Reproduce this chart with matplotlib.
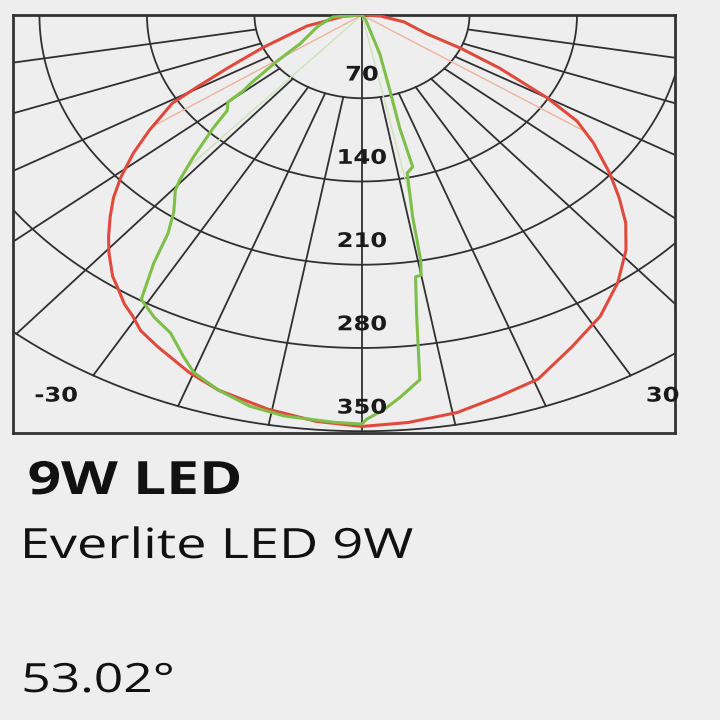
import numpy as np
import matplotlib
matplotlib.use('Agg')
import matplotlib.pyplot as plt
import matplotlib.patheffects as pe
from matplotlib.transforms import Affine2D

# polar grid: candela rings and spoke angles (deg from nadir)
RINGS = [70, 140, 210, 280, 350]
SPOKES = [-80, -70, -60, -50, -40, -30, -20, -10, 10, 20, 30, 40, 50, 60, 70, 80]
EDGE_LABELS = ['-30', '30']
EDGE_ANGLES = [-30, 30]

# red curve (reference lamp), angle deg / cd
RED_ANGLES = [-90, -85, -75.5, -67, -63, -60.5, -59, -55, -52, -49,
              -46.5, -44, -41.5, -39.5, -36.5, -34.5, -32.5, -30.5, -28.5, -25.5,
              -20.5, -16.5, -10.5, -5, 0, 5, 10.5, 15.5, 20.5, 26,
              31.5, 36.5, 41, 44.5, 47.5, 50.5, 54.5, 57.5, 60, 63.5,
              66.5, 69.5, 78, 86, 90]
RED_CD = [0, 12, 37, 70, 98, 124, 144, 169, 189, 208,
          223, 236, 249, 259, 273, 280, 288, 294, 302, 309,
          321, 329, 337, 343, 346, 344, 340, 333, 327, 311,
          297, 280, 262, 245, 227, 209, 185, 166, 139, 100,
          70, 45, 28, 12, 0]

# green curve (Everlite LED 9W)
GREEN_ANGLES = [-90, -85, -72, -59, -55, -51.5, -50.5, -50, -47.5, -45.5,
                -42.5, -40.5, -39.5, -36.5, -34.5, -33, -32, -31, -28, -25,
                -22, -20, -16.5, -12.5, -8.5, -3, 0, 0.5, 2.5, 4.5,
                7, 8, 9, 10, 10.5, 11, 12.5, 14.5, 14.5, 14.5,
                16, 19.5, 30, 90]
GREEN_CD = [0, 19, 30, 47, 67, 93, 100, 114, 119, 136,
            163, 183, 191, 206, 223, 249, 263, 279, 288, 295,
            310, 320, 329, 337, 341, 343, 344, 340, 332, 322,
            309, 256, 223, 222, 210, 173, 136, 132, 124, 98,
            66, 35, 5, 0]

# half-intensity beam edges
RED_BEAM = [-55.5, 56.0]
GREEN_BEAM = [-41.5, 11.52]

TITLE = '9W LED'
PRODUCT = 'Everlite LED 9W'
BEAM_TEXT = '53.02°'

BG = '#eeeeee'
GRID = '#303030'
RED = '#df4a3c'
GREEN = '#7dbf48'


class Stretch(pe.AbstractPathEffect):
    # widen glyphs horizontally, the source picture is stretched
    def __init__(self, sx=1.28, pivot='left'):
        super().__init__()
        self.sx = sx
        self.pivot = pivot

    def draw_path(self, renderer, gc, tpath, affine, rgbFace=None):
        bb = tpath.get_extents(affine)
        px = {'left': bb.x0, 'center': 0.5 * (bb.x0 + bb.x1), 'right': bb.x1}[self.pivot]
        aff = affine + Affine2D().translate(-px, 0).scale(self.sx, 1).translate(px, 0)
        renderer.draw_path(gc, tpath, aff, rgbFace)


def to_xy(ang, r):
    a = np.radians(np.asarray(ang, float))
    r = np.asarray(r, float)
    return r * np.sin(a), -r * np.cos(a)


fig = plt.figure(figsize=(7.2, 7.2), dpi=100, facecolor=BG)
ax = fig.add_axes([13 / 720, 1 - 433 / 720, 662 / 720, 418 / 720])
ax.set_facecolor(BG)
ax.set_xlim(-227.2, 203.8)
ax.set_ylim(-351.5, 0)
ax.set_xticks([])
ax.set_yticks([])
for s in ax.spines.values():
    s.set_color('#333333')
    s.set_linewidth(2.0)

# rings
th = np.linspace(-90, 90, 361)
for r in RINGS:
    x, y = to_xy(th, np.full_like(th, r))
    ax.plot(x, y, color=GRID, lw=1.3, zorder=1)

# spokes from first ring outward, centre line from origin
for a in SPOKES:
    x, y = to_xy([a, a], [RINGS[0], RINGS[-1]])
    ax.plot(x, y, color=GRID, lw=1.3, zorder=1)
x, y = to_xy([0, 0], [0, RINGS[-1]])
ax.plot(x, y, color=GRID, lw=1.3, zorder=1)

# ring labels
for r in RINGS:
    ax.text(0, -(r - 19.5), str(r), ha='center', va='center', fontsize=14.5,
            fontweight='bold', family='DejaVu Sans', color='#1a1a1a', zorder=5,
            path_effects=[Stretch(1.2, 'center')])

for lab, a in zip(EDGE_LABELS, EDGE_ANGLES):
    x, y = to_xy(a, 370)
    ha = 'right' if a < 0 else 'left'
    ax.text(x, y, lab, ha=ha, va='center', fontsize=14.5, fontweight='bold',
            family='DejaVu Sans', color='#1a1a1a', zorder=5,
            path_effects=[Stretch(1.2, ha)])

# beam edge lines
for a in RED_BEAM:
    r_end = np.interp(a, RED_ANGLES, RED_CD)
    x, y = to_xy([a, a], [0, r_end])
    ax.plot(x, y, color='#f0b39c', lw=1.0, zorder=2)
for a in GREEN_BEAM:
    r_end = np.interp(a, GREEN_ANGLES, GREEN_CD)
    x, y = to_xy([a, a], [0, r_end])
    ax.plot(x, y, color='#cfe3b8', lw=1.0, zorder=2)

# intensity curves
x, y = to_xy(RED_ANGLES, RED_CD)
ax.plot(x, y, color=RED, lw=2.2, zorder=3, solid_joinstyle='round')
x, y = to_xy(GREEN_ANGLES, GREEN_CD)
ax.plot(x, y, color=GREEN, lw=2.2, zorder=4, solid_joinstyle='round')

# captions below the diagram
fig.text(28 / 720, 1 - 494 / 720, TITLE, family='Open Sans', fontweight='bold',
         fontsize=33, color='#111111', va='baseline', ha='left',
         path_effects=[Stretch(1.28)])
fig.text(21 / 720, 1 - 558 / 720, PRODUCT, family='Open Sans', fontsize=30,
         color='#111111', va='baseline', ha='left', path_effects=[Stretch(1.3)])
fig.text(22 / 720, 1 - 692 / 720, BEAM_TEXT, family='Open Sans', fontsize=29,
         color='#111111', va='baseline', ha='left', path_effects=[Stretch(1.28)])

fig.savefig('out.png', dpi=100, facecolor=BG)
